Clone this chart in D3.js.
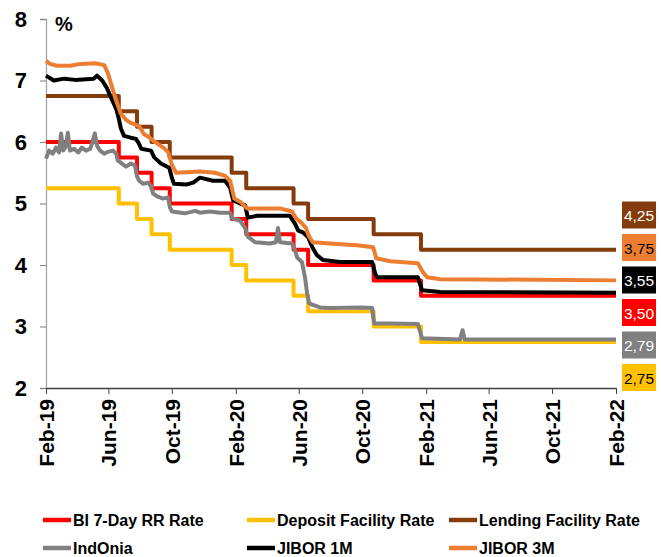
<!DOCTYPE html>
<html>
<head>
<meta charset="utf-8">
<script src="https://cdn.jsdelivr.net/npm/d3@7/dist/d3.min.js"></script>
<style>
  body { margin: 0; background: #fff; }
  svg text { font-family: "Liberation Sans Narrow", "Arial Narrow", "Liberation Sans", sans-serif; }
</style>
</head>
<body>
<div id="chart"></div>
<script>
// policy rate changes (BI 7-Day RR, deposit and lending facility)
var policyDates = ["2019-02-28","2019-07-18","2019-08-22","2019-09-19","2019-10-24","2020-02-20","2020-03-19","2020-06-18","2020-07-16","2020-11-19","2021-02-18"];
var biRate      = [6.00, 5.75, 5.50, 5.25, 5.00, 4.75, 4.50, 4.25, 4.00, 3.75, 3.50];
var depositRate = [5.25, 5.00, 4.75, 4.50, 4.25, 4.00, 3.75, 3.50, 3.25, 3.00, 2.75];
var lendingRate = [6.75, 6.50, 6.25, 6.00, 5.75, 5.50, 5.25, 5.00, 4.75, 4.50, 4.25];
var endDate = "2022-02-28";

// market rates
var jibor3m = [["2019-02-28",7.32],["2019-03-08",7.27],["2019-03-21",7.24],["2019-04-15",7.24],["2019-05-06",7.27],["2019-06-02",7.28],["2019-06-20",7.25],["2019-06-27",7.12],["2019-07-03",6.95],["2019-07-13",6.67],["2019-07-22",6.46],["2019-08-01",6.36],["2019-08-10",6.31],["2019-08-26",6.26],["2019-09-04",6.13],["2019-09-16",6.07],["2019-09-24",6.01],["2019-10-13",5.90],["2019-10-21",5.83],["2019-10-28",5.63],["2019-11-05",5.50],["2019-12-21",5.52],["2020-01-19",5.50],["2020-02-07",5.45],["2020-02-17",5.37],["2020-02-25",5.08],["2020-03-07",5.03],["2020-03-21",4.92],["2020-04-15",4.92],["2020-05-23",4.92],["2020-06-15",4.87],["2020-06-23",4.76],["2020-07-04",4.68],["2020-07-12",4.60],["2020-07-18",4.46],["2020-07-25",4.37],["2020-08-27",4.35],["2020-10-18",4.32],["2020-11-18",4.29],["2020-11-24",4.11],["2020-12-21",4.06],["2021-02-12",4.03],["2021-02-22",3.88],["2021-03-02",3.80],["2021-03-27",3.77],["2022-02-28",3.75]];

var jibor1m = [["2019-02-28",7.08],["2019-03-15",7.00],["2019-04-04",7.03],["2019-04-25",7.01],["2019-05-31",7.03],["2019-06-06",7.08],["2019-06-16",7.00],["2019-06-25",6.88],["2019-07-03",6.72],["2019-07-13",6.54],["2019-07-18",6.38],["2019-07-22",6.22],["2019-07-28",6.10],["2019-08-10",6.07],["2019-08-20",6.05],["2019-08-26",5.97],["2019-08-30",5.89],["2019-09-18",5.86],["2019-09-24",5.75],["2019-10-07",5.65],["2019-10-23",5.58],["2019-10-28",5.42],["2019-11-01",5.32],["2019-11-26",5.31],["2019-12-08",5.34],["2019-12-21",5.42],["2020-01-15",5.37],["2020-02-07",5.37],["2020-02-17",5.26],["2020-02-23",5.05],["2020-03-07",5.00],["2020-03-17",4.97],["2020-03-22",4.77],["2020-04-09",4.80],["2020-06-11",4.80],["2020-06-21",4.67],["2020-06-27",4.56],["2020-07-06",4.53],["2020-07-16",4.45],["2020-07-24",4.29],["2020-08-02",4.16],["2020-08-14",4.08],["2020-09-15",4.05],["2020-11-16",4.05],["2020-11-22",3.86],["2020-11-26",3.80],["2021-02-12",3.80],["2021-02-20",3.59],["2021-03-27",3.56],["2022-02-28",3.55]];

var indonia = [["2019-02-28",5.73],["2019-03-06",5.86],["2019-03-13",5.81],["2019-03-19",5.91],["2019-03-25",5.83],["2019-03-29",6.14],["2019-04-02",5.86],["2019-04-07",5.92],["2019-04-11",6.15],["2019-04-15",5.86],["2019-04-23",5.89],["2019-05-01",5.83],["2019-05-08",5.91],["2019-05-16",5.86],["2019-05-24",5.89],["2019-05-29",6.02],["2019-06-02",6.14],["2019-06-06",5.94],["2019-06-12",5.86],["2019-06-20",5.81],["2019-06-27",5.84],["2019-07-07",5.86],["2019-07-13",5.81],["2019-07-16",5.70],["2019-07-24",5.65],["2019-08-01",5.60],["2019-08-10",5.65],["2019-08-18",5.62],["2019-08-22",5.44],["2019-08-26",5.37],["2019-09-03",5.32],["2019-09-12",5.34],["2019-09-18",5.28],["2019-09-22",5.16],["2019-10-01",5.11],["2019-10-11",5.08],["2019-10-21",5.10],["2019-10-24",4.94],["2019-10-28",4.87],["2019-11-22",4.84],["2019-12-12",4.88],["2019-12-21",4.85],["2020-01-09",4.87],["2020-01-29",4.85],["2020-02-17",4.85],["2020-02-21",4.76],["2020-03-07",4.72],["2020-03-17",4.60],["2020-03-22",4.46],["2020-04-05",4.37],["2020-05-04",4.35],["2020-05-15",4.37],["2020-05-19",4.60],["2020-05-23",4.37],["2020-06-15",4.35],["2020-06-21",4.24],["2020-06-25",4.12],["2020-07-04",4.05],["2020-07-10",3.80],["2020-07-14",3.54],["2020-07-18",3.38],["2020-07-25",3.35],["2020-08-08",3.31],["2020-08-27",3.30],["2020-10-28",3.31],["2020-11-16",3.30],["2020-11-20",3.05],["2020-12-21",3.05],["2021-02-12",3.04],["2021-02-20",2.81],["2021-05-04",2.79],["2021-05-09",2.94],["2021-05-13",2.79],["2022-02-28",2.79]];

var tickDates = ["2019-02-28","2019-06-28","2019-10-28","2020-02-28","2020-06-28","2020-10-28","2021-02-28","2021-06-28","2021-10-28","2022-02-28"];
var yTicks = [2, 3, 4, 5, 6, 7, 8];

var seriesNames = ["BI 7-Day RR Rate", "Deposit Facility Rate", "Lending Facility Rate", "IndOnia", "JIBOR 1M", "JIBOR 3M"];
var seriesColors = ["#ff0000", "#ffc000", "#843c0c", "#808080", "#000000", "#ed7d31"];

var W = 661, H = 557;
var margin = {left: 46, right: 45, top: 19, bottom: 169};

var parse = d3.timeParse("%Y-%m-%d");

function steps(vals) {
	var pts = policyDates.map(function(d, i) { return [parse(d), vals[i]]; });
	pts.push([parse(endDate), vals[vals.length - 1]]);
	return pts;
}
function pairs(arr) {
	return arr.map(function(p) { return [parse(p[0]), p[1]]; });
}

var series = [
	{pts: steps(biRate), step: true},
	{pts: steps(depositRate), step: true},
	{pts: steps(lendingRate), step: true},
	{pts: pairs(indonia), step: false},
	{pts: pairs(jibor1m), step: false},
	{pts: pairs(jibor3m), step: false}
];
series.forEach(function(s, i) { s.name = seriesNames[i]; s.color = seriesColors[i]; });

var svg = d3.select("#chart").append("svg")
	.attr("width", W)
	.attr("height", H);

var x = d3.scaleTime()
	.domain([parse(tickDates[0]), parse(tickDates[tickDates.length - 1])])
	.range([margin.left, W - margin.right]);

var y = d3.scaleLinear()
	.domain([2, 8])
	.range([H - margin.bottom, margin.top]);

// y axis
var yAxis = svg.append("g")
	.attr("transform", "translate(" + margin.left + ",0)")
	.call(d3.axisLeft(y).tickValues(yTicks).tickSize(6).tickPadding(13).tickFormat(d3.format("d")));
yAxis.select(".domain").attr("stroke", "#a6a6a6").attr("stroke-width", 1.3);
yAxis.selectAll(".tick line").attr("stroke", "#7f7f7f");
yAxis.selectAll(".tick text")
	.attr("font-size", 22)
	.attr("font-weight", "bold")
	.attr("fill", "#000");

svg.append("text")
	.attr("x", margin.left + 9)
	.attr("y", margin.top + 12)
	.attr("font-size", 20)
	.attr("font-weight", "bold")
	.text("%");

// x axis
var xAxis = svg.append("g")
	.attr("transform", "translate(0," + y(2) + ")")
	.call(d3.axisBottom(x).tickValues(tickDates.map(parse)).tickSize(6).tickSizeOuter(0).tickFormat(d3.timeFormat("%b-%y")));
xAxis.select(".domain").attr("stroke", "#404040").attr("stroke-width", 1.3);
xAxis.selectAll(".tick line").attr("stroke", "#404040");
xAxis.selectAll(".tick text")
	.attr("transform", "rotate(-90)")
	.attr("text-anchor", "end")
	.attr("x", -11)
	.attr("y", 0)
	.attr("dy", "0.36em")
	.attr("font-size", 21)
	.attr("font-weight", "bold")
	.attr("fill", "#000");

// lines
var line = d3.line().x(function(d) { return x(d[0]); }).y(function(d) { return y(d[1]); });
var stepLine = d3.line().curve(d3.curveStepAfter).x(function(d) { return x(d[0]); }).y(function(d) { return y(d[1]); });

svg.append("g").selectAll("path")
	.data(series)
	.enter()
	.append("path")
	.attr("d", function(s) { return s.step ? stepLine(s.pts) : line(s.pts); })
	.attr("fill", "none")
	.attr("stroke", function(s) { return s.color; })
	.attr("stroke-width", 4)
	.attr("stroke-linejoin", "round");

// end value boxes, stacked from the bottom in order of last value
var last = series.map(function(s) { return {v: s.pts[s.pts.length - 1][1], color: s.color}; });
last.sort(function(a, b) { return a.v - b.v; });
var textDark = {"#ffc000": "#000", "#ed7d31": "#000"};
var fmt = d3.format(".2f");
var boxes = svg.append("g").selectAll("g")
	.data(last)
	.enter()
	.append("g")
	.attr("transform", function(d, i) { return "translate(" + (W - margin.right + 6) + "," + (y(2) - 24 - i * 32.5) + ")"; });
boxes.append("rect")
	.attr("width", 34)
	.attr("height", 27)
	.attr("fill", function(d) { return d.color; });
boxes.append("text")
	.attr("x", 17)
	.attr("y", 19.5)
	.attr("text-anchor", "middle")
	.attr("font-size", 15.5)
	.attr("fill", function(d) { return textDark[d.color] || "#fff"; })
	.text(function(d) { return fmt(d.v).replace(".", ","); });

// legend, two rows of three
var legend = svg.append("g").selectAll("g")
	.data(series)
	.enter()
	.append("g")
	.attr("transform", function(d, i) { return "translate(" + [43, 247, 449][i % 3] + "," + (520 + Math.floor(i / 3) * 28) + ")"; });
legend.append("line")
	.attr("x1", 0).attr("x2", 28)
	.attr("stroke", function(d) { return d.color; })
	.attr("stroke-width", 4.5);
legend.append("text")
	.attr("x", 30)
	.attr("dy", "0.35em")
	.attr("font-size", 16)
	.attr("font-weight", "bold")
	.text(function(d) { return d.name; });
</script>
</body>
</html>
